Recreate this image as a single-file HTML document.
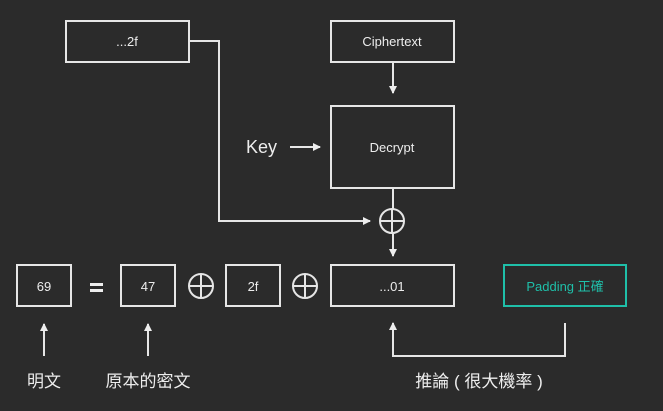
<!DOCTYPE html>
<html><head><meta charset="utf-8"><style>
html,body{margin:0;padding:0;background:#2b2b2b;}
svg{display:block;}
text{font-family:"Liberation Sans","Noto Sans CJK TC",sans-serif;fill:#ededed;}
</style></head><body>
<svg width="663" height="411" viewBox="0 0 663 411" xmlns="http://www.w3.org/2000/svg">
<rect width="663" height="411" fill="#2b2b2b"/>
<defs><marker id="a" markerWidth="8" markerHeight="8" refX="7" refY="4" orient="auto" markerUnits="userSpaceOnUse"><path d="M0,0 L8,4 L0,8 z" fill="#eee"/></marker></defs>
<g fill="none" stroke="#e6e6e6" stroke-width="2">
<rect x="66" y="21" width="123" height="41"/>
<rect x="331" y="21" width="123" height="41"/>
<rect x="331" y="106" width="123" height="82"/>
<rect x="17" y="265" width="54" height="41"/>
<rect x="121" y="265" width="54" height="41"/>
<rect x="226" y="265" width="54" height="41"/>
<rect x="331" y="265" width="123" height="41"/>
<rect x="504" y="265" width="122" height="41" stroke="#1fbfa9"/>
<line x1="393" y1="62" x2="393" y2="93" marker-end="url(#a)"/>
<line x1="290" y1="147" x2="320" y2="147" marker-end="url(#a)"/>
<line x1="393" y1="188" x2="393" y2="209"/>
<polyline points="189,41 219,41 219,221 370,221" marker-end="url(#a)"/>
<line x1="393" y1="233" x2="393" y2="256" marker-end="url(#a)"/>
<circle cx="392" cy="221" r="12"/><line x1="380" y1="221" x2="404" y2="221"/><line x1="392" y1="209" x2="392" y2="233"/>
<circle cx="201" cy="286" r="12"/><line x1="189" y1="286" x2="213" y2="286"/><line x1="201" y1="274" x2="201" y2="298"/>
<circle cx="305" cy="286" r="12"/><line x1="293" y1="286" x2="317" y2="286"/><line x1="305" y1="274" x2="305" y2="298"/>
<line x1="44" y1="356" x2="44" y2="324" marker-end="url(#a)"/>
<line x1="148" y1="356" x2="148" y2="324" marker-end="url(#a)"/>
<polyline points="565,323 565,356 393,356 393,323" marker-end="url(#a)"/>
</g>
<rect x="90" y="283" width="13" height="3" fill="#eee"/><rect x="90" y="289" width="13" height="3" fill="#eee"/>
<g font-size="13" text-anchor="middle">
<text x="127" y="46">...2f</text>
<text x="392" y="46">Ciphertext</text>
<text x="392" y="152">Decrypt</text>
<text x="44" y="291">69</text>
<text x="148" y="291">47</text>
<text x="253" y="291">2f</text>
<text x="392" y="291">...01</text>
<text x="565" y="291" style="fill:#1fbfa9">Padding 正確</text>
</g>
<text x="246" y="153" font-size="18">Key</text>
<g font-size="17" text-anchor="middle">
<text x="44" y="387">明文</text>
<text x="148" y="387">原本的密文</text>
<text x="479" y="387">推論 ( 很大機率 )</text>
</g>
</svg>
</body></html>
